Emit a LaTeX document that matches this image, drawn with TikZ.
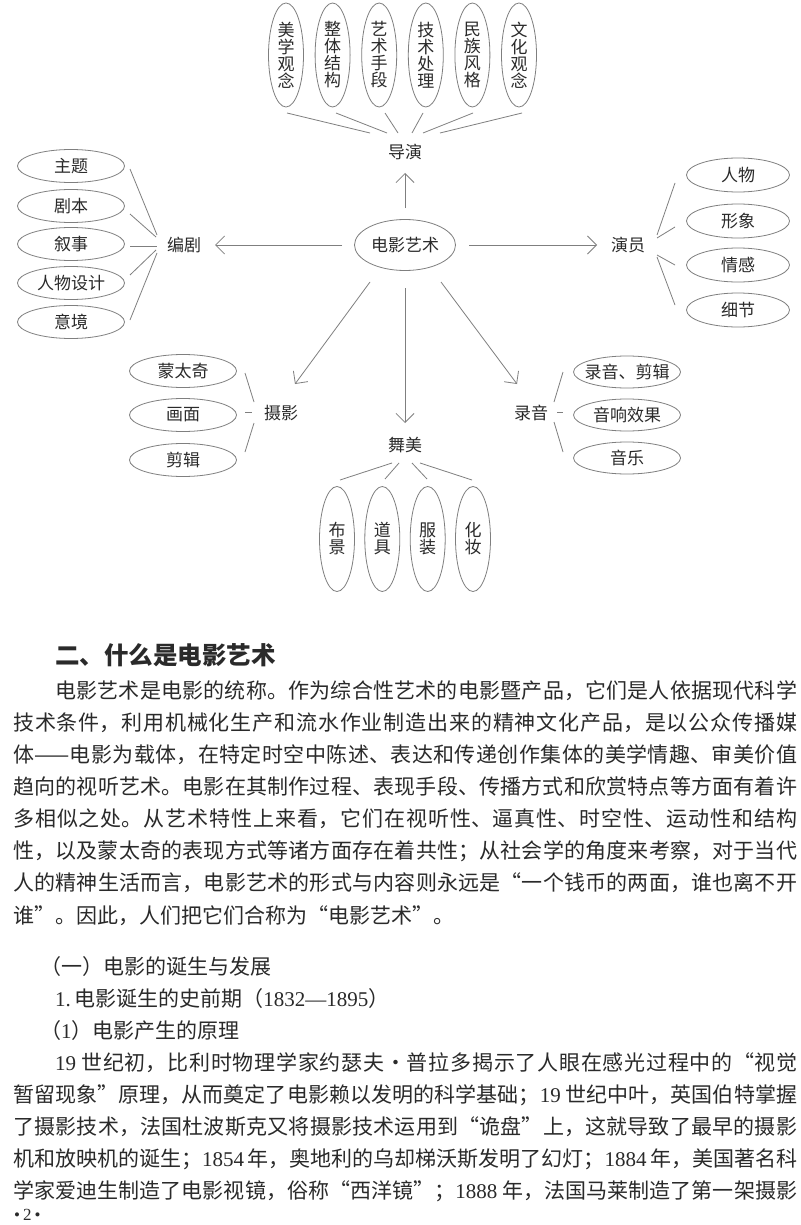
\documentclass[tikz,border=0pt]{standalone}
\usepackage{fontspec}
\setmainfont{Noto Sans CJK SC}
\newfontfamily\tm{Liberation Serif}
\newfontfamily\hei{Noto Sans CJK SC}
\usetikzlibrary{shapes.geometric,arrows.meta,calc}
\XeTeXlinebreaklocale "zh"
\XeTeXlinebreakskip=0pt plus 5pt
\definecolor{ln}{HTML}{7F7F7F}
\definecolor{tx}{HTML}{2A2A2A}
\newcommand\dfont{\fontsize{17}{17}\selectfont}
\newcommand\bfont{\fontsize{21}{32}\selectfont}
\newcommand\mc[1]{\makebox[0pt]{#1}}
\newcommand\jl[1]{\parbox[b]{784pt}{\tolerance=10000\hbadness=10000\parfillskip=0pt\relax #1}}
\begin{document}
\begin{tikzpicture}[x=1pt,y=-1pt,
  lab/.style={inner sep=0pt, font=\dfont, text=tx},
  ell/.style={ellipse, draw=ln, line width=0.8pt, inner sep=0pt, font=\dfont, text=tx},
  vell/.style={ell, minimum width=35pt, minimum height=104pt, align=center},
  hell/.style={ell, minimum width=107pt, minimum height=33pt},
  rell/.style={ell, minimum width=103pt, minimum height=34pt},
  cell/.style={ell, minimum width=101pt, minimum height=51pt},
  conn/.style={draw=ln, line width=0.8pt},
  arr/.style={conn, -{Straight Barb[length=9pt,width=18pt]}},
  body/.style={anchor=base west, inner sep=0pt, font=\bfont, text=tx}]
\useasboundingbox[fill=white] (0,0) rectangle (800,1225);

% ---- centre and category labels
\node[cell] (c) at (405,245) {电影艺术};
\node[lab] (dy) at (405,152) {导演};
\node[lab] (bj) at (184,245) {编剧};
\node[lab] (yy) at (628,245) {演员};
\node[lab] (sy) at (281,413) {摄影};
\node[lab] (ly) at (531,413) {录音};
\node[lab] (wm) at (405,445) {舞美};

\draw[arr] ($(c)+(0,-37)$) -- ($(dy)+(0,21)$);
\draw[arr] ($(c)+(-63,0)$) -- ($(bj)+(31,0)$);
\draw[arr] ($(c)+(64,0)$) -- ($(yy)+(-31,0)$);
\draw[arr] ($(c)+(-35,37)$) -- ($(sy)+(14,-29)$);
\draw[arr] ($(c)+(0,43)$) -- ($(wm)+(0,-22)$);
\draw[arr] ($(c)+(36,37)$) -- ($(ly)+(-14,-29)$);

% ---- 导演
\node[vell] (t1) at (286,55) {美\\学\\观\\念};
\node[vell] (t2) at (332.6,55) {整\\体\\结\\构};
\node[vell] (t3) at (379.2,55) {艺\\术\\手\\段};
\node[vell] (t4) at (425.8,55) {技\\术\\处\\理};
\node[vell] (t5) at (472.4,55) {民\\族\\风\\格};
\node[vell] (t6) at (519,55) {文\\化\\观\\念};
\draw[conn] ($(t1)+(1,58)$) -- ($(dy)+(-35,-19)$);
\draw[conn] ($(t2)+(3.4,58)$) -- ($(dy)+(-18,-19)$);
\draw[conn] ($(t3)+(5.8,58)$) -- ($(dy)+(-7,-19)$);
\draw[conn] ($(t4)+(-2.8,58)$) -- ($(dy)+(7,-19)$);
\draw[conn] ($(t5)+(0.6,58)$) -- ($(dy)+(18,-19)$);
\draw[conn] ($(t6)+(3,58)$) -- ($(dy)+(35,-19)$);

% ---- 编剧
\node[hell] (l1) at (71,166) {\mc{主题}};
\node[hell] (l2) at (71,206) {\mc{剧本}};
\node[hell] (l3) at (71,244) {\mc{叙事}};
\node[hell] (l4) at (71,283) {\mc{人物设计}};
\node[hell] (l5) at (71,322) {\mc{意境}};
\draw[conn] ($(l1)+(59,3)$) -- ($(bj)+(-27,-10)$);
\draw[conn] ($(l2)+(59,8)$) -- ($(bj)+(-28,-8)$);
\draw[conn] ($(l3)+(59,2)$) -- ($(bj)+(-27,1)$);
\draw[conn] ($(l4)+(59,-8)$) -- ($(bj)+(-28,5)$);
\draw[conn] ($(l5)+(59,-2)$) -- ($(bj)+(-27,8)$);

% ---- 演员
\node[rell] (r1) at (738,175) {\mc{人物}};
\node[rell] (r2) at (738,221) {\mc{形象}};
\node[rell] (r3) at (738,265) {\mc{情感}};
\node[rell] (r4) at (738,310) {\mc{细节}};
\draw[conn] ($(yy)+(29,-10)$) -- ($(r1)+(-63,8)$);
\draw[conn] ($(yy)+(29,-7)$) -- ($(r2)+(-63,6)$);
\draw[conn] ($(yy)+(29,10)$) -- ($(r3)+(-63,0)$);
\draw[conn] ($(yy)+(29,12)$) -- ($(r4)+(-63,-5)$);

% ---- 摄影
\node[hell] (s1) at (183,371) {\mc{蒙太奇}};
\node[hell] (s2) at (183,415) {\mc{画面}};
\node[hell] (s3) at (183,460) {\mc{剪辑}};
\draw[conn] ($(s1)+(62,2)$) -- ($(sy)+(-27,-11)$);
\draw[conn] ($(s2)+(62,-3)$) -- ($(sy)+(-29,-1)$);
\draw[conn] ($(sy)+(-27,10)$) -- ($(s3)+(62,-8)$);

% ---- 录音
\node[hell, minimum height=32pt] (a1) at (627,372) {\mc{录音、剪辑}};
\node[hell, minimum height=32pt] (a2) at (627,415) {\mc{音响效果}};
\node[hell, minimum height=32pt] (a3) at (627,458) {\mc{音乐}};
\draw[conn] ($(a1)+(-64,0)$) -- ($(ly)+(23,-11)$);
\draw[conn] ($(ly)+(26,-1)$) -- ($(a2)+(-64,-3)$);
\draw[conn] ($(ly)+(23,9)$) -- ($(a3)+(-64,-6)$);

% ---- 舞美
\node[vell, minimum height=105pt] (w1) at (337,539) {布\\景};
\node[vell, minimum height=105pt] (w2) at (382.3,539) {道\\具};
\node[vell, minimum height=105pt] (w3) at (427.7,539) {服\\装};
\node[vell, minimum height=105pt] (w4) at (473,539) {化\\妆};
\draw[conn] ($(wm)+(-13,18)$) -- ($(w1)+(3,-59)$);
\draw[conn] ($(wm)+(-6,18)$) -- ($(w2)+(2.7,-60)$);
\draw[conn] ($(wm)+(7,18)$) -- ($(w3)+(-0.7,-60)$);
\draw[conn] ($(wm)+(15,18)$) -- ($(w4)+(-1,-59)$);

% ---- text
\node[body, font={\hei\bfseries\fontsize{24.5}{30}\selectfont}] (h) at (55,664) {二、什么是电影艺术};
\node[body] (p1) at (13,698) {\jl{\hspace*{42pt}电影艺术是电影的统称。作为综合性艺术的电影暨产品，它们是人依据现代科学}};
\node[body] (p2) at (13,730.1) {\jl{技术条件，利用机械化生产和流水作业制造出来的精神文化产品，是以公众传播媒}};
\node[body] (p3) at (13,762.3) {\jl{体——电影为载体，在特定时空中陈述、表达和传递创作集体的美学情趣、审美价值}};
\node[body] (p4) at (13,794.4) {\jl{趋向的视听艺术。电影在其制作过程、表现手段、传播方式和欣赏特点等方面有着许}};
\node[body] (p5) at (13,826.6) {\jl{多相似之处。从艺术特性上来看，它们在视听性、逼真性、时空性、运动性和结构}};
\node[body] (p6) at (13,858.7) {\jl{性，以及蒙太奇的表现方式等诸方面存在着共性；从社会学的角度来考察，对于当代}};
\node[body] (p7) at (13,890.9) {\jl{人的精神生活而言，电影艺术的形式与内容则永远是“一个钱币的两面，谁也离不开}};
\node[body] (p8) at (13,923) {谁”。因此，人们把它们合称为“电影艺术”。};

\node[body] (b1) at (40,974) {（一）电影的诞生与发展};
\node[body] (b2) at (55,1006) {{\tm 1.}\,电影诞生的史前期（{\tm 1832—1895}）};
\node[body] (b3) at (40,1038) {（{\tm 1}）电影产生的原理};
\node[body] (b4) at (13,1070) {\jl{\hspace*{42pt}{\tm 19} 世纪初，比利时物理学家约瑟夫·普拉多揭示了人眼在感光过程中的“视觉}};
\node[body] (b5) at (13,1102) {\jl{暂留现象”原理，从而奠定了电影赖以发明的科学基础；{\tm 19} 世纪中叶，英国伯特掌握}};
\node[body] (b6) at (13,1134) {\jl{了摄影技术，法国杜波斯克又将摄影技术运用到“诡盘”上，这就导致了最早的摄影}};
\node[body] (b7) at (13,1166) {\jl{机和放映机的诞生；{\tm 1854} 年，奥地利的乌却梯沃斯发明了幻灯；{\tm 1884} 年，美国著名科}};
\node[body] (b8) at (13,1198) {\jl{学家爱迪生制造了电影视镜，俗称“西洋镜”；{\tm 1888} 年，法国马莱制造了第一架摄影}};
\node[body, font={\tm\fontsize{17}{20}\selectfont}] (pg) at (14,1220) {•\hspace{3pt}2\hspace{3pt}•};
\end{tikzpicture}
\end{document}
